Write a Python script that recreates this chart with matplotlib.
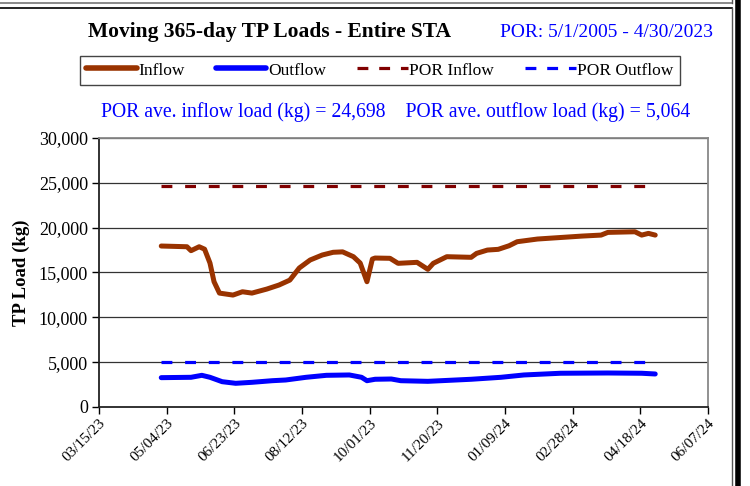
import matplotlib as mpl
mpl.use('Agg')
import matplotlib.pyplot as plt
import matplotlib.dates as mdates
from matplotlib.lines import Line2D
import pandas as pd

plt.rcParams['font.family'] = ['Liberation Serif', 'DejaVu Serif']

# values
inflow_dates = ['2023-04-30', '2023-05-19', '2023-05-22', '2023-05-28', '2023-06-01',
                '2023-06-05', '2023-06-08', '2023-06-12', '2023-06-22', '2023-06-29',
                '2023-07-06', '2023-07-17', '2023-07-26', '2023-08-03', '2023-08-10',
                '2023-08-18', '2023-08-27', '2023-09-04', '2023-09-11', '2023-09-19',
                '2023-09-24', '2023-09-29', '2023-10-03', '2023-10-05', '2023-10-16',
                '2023-10-22', '2023-11-05', '2023-11-13', '2023-11-17', '2023-11-27',
                '2023-12-15', '2023-12-19', '2023-12-27', '2024-01-04', '2024-01-12',
                '2024-01-18', '2024-02-02', '2024-02-17', '2024-03-06', '2024-03-20',
                '2024-03-25', '2024-04-14', '2024-04-19', '2024-04-24', '2024-04-29']
inflow_kg = [17950, 17870, 17430, 17870, 17600,
             16050, 13970, 12700, 12480, 12850,
             12700, 13150, 13600, 14150, 15500,
             16390, 16950, 17250, 17300, 16760,
             16050, 13970, 16500, 16610, 16580,
             16020, 16130, 15350, 16020, 16760,
             16690, 17130, 17500, 17580, 17980,
             18430, 18730, 18880, 19060, 19170,
             19470, 19540, 19170, 19360, 19170]

outflow_dates = ['2023-04-30', '2023-05-22', '2023-05-30', '2023-06-05', '2023-06-14',
                 '2023-06-24', '2023-07-06', '2023-07-21', '2023-07-31', '2023-08-15',
                 '2023-08-30', '2023-09-16', '2023-09-25', '2023-09-29', '2023-10-05',
                 '2023-10-17', '2023-10-24', '2023-11-13', '2023-12-15', '2024-01-06',
                 '2024-01-23', '2024-02-19', '2024-03-25', '2024-04-19', '2024-04-29']
outflow_kg = [3270, 3310, 3530, 3310, 2820,
              2640, 2750, 2930, 3010, 3310,
              3530, 3570, 3310, 2930, 3090,
              3120, 2930, 2860, 3090, 3310,
              3570, 3760, 3790, 3760, 3680]

por_inflow = 24698
por_outflow = 5064
por_start, por_end = '2023-04-30', '2024-04-29'

x_start, x_end = '2023-03-15', '2024-06-07'
tick_dates = pd.date_range(x_start, x_end, freq='50D')
y_ticks = list(range(0, 30001, 5000))

inflow_color = '#993300'
outflow_color = '#0000FF'
por_in_color = '#800000'

fig = plt.figure(figsize=(7.5, 4.86), dpi=100)
ax = fig.add_axes([0.132, 0.1626, 0.812, 0.5535])

for y in y_ticks[1:]:
    ax.axhline(y, color='#333333', lw=0.9, zorder=1)

dash = (0, (3.4, 4.0))
ax.plot(pd.to_datetime([por_start, por_end]), [por_inflow, por_inflow],
        color=por_in_color, lw=2.3, linestyle=dash, zorder=2)
ax.plot(pd.to_datetime([por_start, por_end]), [por_outflow, por_outflow],
        color=outflow_color, lw=2.3, linestyle=dash, zorder=2)
ax.plot(pd.to_datetime(inflow_dates), inflow_kg, color=inflow_color, lw=3.6,
        solid_capstyle='round', solid_joinstyle='round', zorder=3)
ax.plot(pd.to_datetime(outflow_dates), outflow_kg, color=outflow_color, lw=3.6,
        solid_capstyle='round', solid_joinstyle='round', zorder=3)

ax.set_xlim(pd.Timestamp(x_start), pd.Timestamp(x_end))
ax.set_ylim(0, 30000)
ax.set_xticks(tick_dates)
ax.xaxis.set_major_formatter(mdates.DateFormatter('%m/%d/%y'))
ax.set_yticks(y_ticks)
ax.set_yticklabels([f'{v:,}' for v in y_ticks])
ax.tick_params(axis='x', direction='out', length=5, width=1, labelsize=11,
               labelrotation=45, pad=2)
ax.tick_params(axis='y', direction='out', length=5, width=1, labelsize=13, pad=3)
for lab in ax.get_xticklabels():
    lab.set_ha('right')
    lab.set_rotation_mode('anchor')

for side in ('left', 'bottom'):
    ax.spines[side].set_color('#222222')
    ax.spines[side].set_linewidth(1.3)
for side in ('top', 'right'):
    ax.spines[side].set_color('#888888')
    ax.spines[side].set_linewidth(1.3)

ax.set_ylabel('TP Load (kg)', fontsize=13.5, fontweight='bold', labelpad=6)

fig.text(0.36, 0.934, 'Moving 365-day TP Loads - Entire STA', fontsize=15.5,
         fontweight='bold', ha='center', va='center')
fig.text(0.808, 0.934, 'POR: 5/1/2005 - 4/30/2023', fontsize=14,
         color=outflow_color, ha='center', va='center')
fig.text(0.528, 0.77,
         f'POR ave. inflow load (kg) = {por_inflow:,}    POR ave. outflow load (kg) = {por_outflow:,}',
         fontsize=14.2, color=outflow_color, ha='center', va='center')

handles = [
    Line2D([], [], color=inflow_color, lw=4, solid_capstyle='round'),
    Line2D([], [], color=outflow_color, lw=4, solid_capstyle='round'),
    Line2D([], [], color=por_in_color, lw=2.3, linestyle=(0, (3.4, 3.4))),
    Line2D([], [], color=outflow_color, lw=2.3, linestyle=(0, (3.4, 3.4))),
]
leg = fig.legend(handles, ['Inflow', 'Outflow', 'POR Inflow', 'POR Outflow'],
                 loc='center', bbox_to_anchor=(0.5067, 0.855), ncol=4,
                 fontsize=12.5, handlelength=2.9, handletextpad=0.1,
                 columnspacing=1.8, fancybox=False, framealpha=1,
                 edgecolor='#444444', borderpad=0.35)
leg.get_frame().set_linewidth(1.0)

# outer frame remnants of the sheet
fig.add_artist(Line2D([0, 732 / 750], [1 - 3 / 486, 1 - 3 / 486], color='#777777', lw=1.2))
fig.add_artist(Line2D([0, 732 / 750], [1 - 8 / 486, 1 - 8 / 486], color='black', lw=1.2))
fig.add_artist(Line2D([732 / 750, 732 / 750], [0, 1 - 8 / 486], color='#555555', lw=1))
fig.add_artist(Line2D([732 / 750, 732 / 750], [1 - 3 / 486, 1], color='#555555', lw=1))
fig.add_artist(Line2D([738 / 750, 738 / 750], [0, 1], color='black', lw=4))

fig.savefig('out.png', dpi=100)
